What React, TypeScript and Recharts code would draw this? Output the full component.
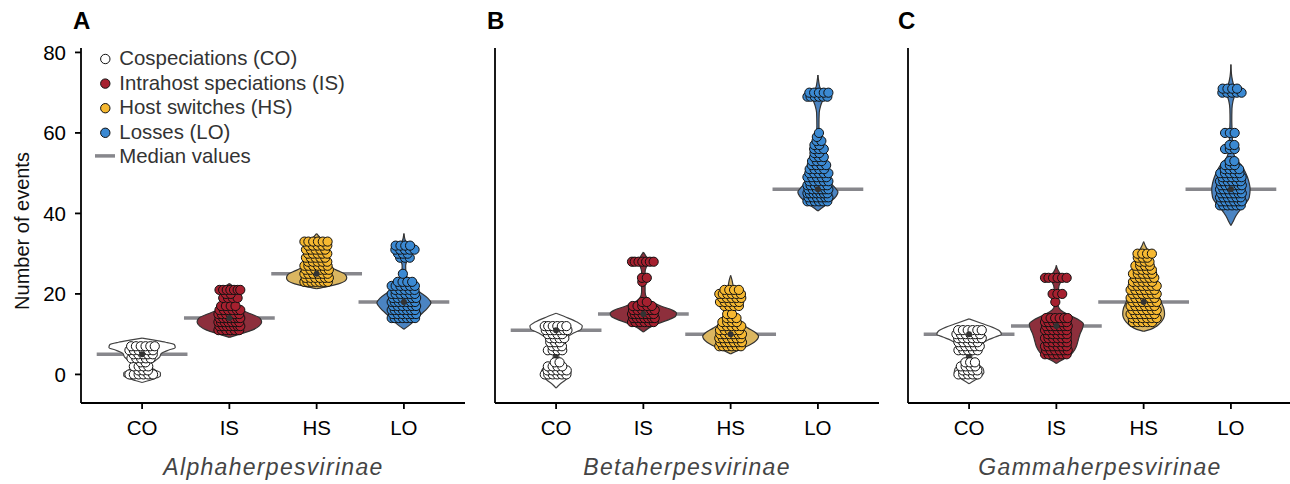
import React from 'react';
import {
  ComposedChart,
  Area,
  Scatter,
  XAxis,
  YAxis,
  ReferenceLine,
  ReferenceDot,
  Legend,
} from 'recharts';

type Row = [number, number];

// ---------- data ----------
const categories = ['CO', 'IS', 'HS', 'LO'];
const panelLetters = ['A', 'B', 'C'];
const panelTitles = ['Alphaherpesvirinae', 'Betaherpesvirinae', 'Gammaherpesvirinae'];
const yTicks = [0, 20, 40, 60, 80];
const legendLabels = [
  'Cospeciations (CO)',
  'Intrahost speciations (IS)',
  'Host switches (HS)',
  'Losses (LO)',
  'Median values',
];

// medians per category (CO, IS, HS, LO)
const alphaMedians = [5, 14, 25, 18];
const betaMedians = [11, 15, 10, 46];
const gammaMedians = [10, 12, 18, 46];

// inner box: [q1, q3, whiskerLow, whiskerHigh]
const alphaBoxes = [[2, 7, 0, 8], [12, 16, 11, 21], [24, 30, 23, 33], [16, 21, 14, 25]];
const betaBoxes = [[2, 11, 0, 12], [14, 16.5, 13, 18], [8, 17, 7, 21], [44, 50, 43, 58]];
const gammaBoxes = [[2, 10, 0, 11], [7, 12, 5, 14], [16, 23, 13, 30], [44, 48, 42, 53]];

// event counts: [value, number of points at that value]
const alphaCO: Row[] = [[0, 6], [1, 3], [2, 4], [3, 2], [4, 5], [5, 5], [6, 6], [7, 6]];
const alphaIS: Row[] = [[11, 6], [12, 7], [13, 7], [14, 7], [15, 6], [16, 6], [17, 4], [19, 4], [20, 2], [21, 7]];
const alphaHS: Row[] = [[23, 7], [24, 6], [25, 6], [26, 6], [27, 6], [28, 5], [29, 5], [30, 5], [31, 5], [32, 5], [33, 6]];
const alphaLO: Row[] = [[14, 7], [15, 6], [16, 7], [17, 6], [18, 7], [19, 6], [20, 6], [21, 5], [22, 6], [23, 4], [25, 1], [29, 3], [30, 3], [31, 5], [32, 4]];

const betaCO: Row[] = [[0, 6], [1, 5], [2, 4], [3, 2], [6, 4], [7, 3], [8, 3], [9, 4], [10, 4], [11, 6], [12, 6]];
const betaIS: Row[] = [[13, 6], [14, 7], [15, 7], [16, 6], [17, 5], [18, 2], [23, 1], [24, 2], [28, 7]];
const betaHS: Row[] = [[7, 6], [8, 6], [9, 6], [10, 6], [11, 5], [12, 5], [13, 4], [14, 3], [15, 2], [17, 4], [18, 5], [19, 5], [20, 6], [21, 4]];
const betaLO: Row[] = [[43, 6], [44, 6], [45, 7], [46, 6], [47, 6], [48, 5], [49, 5], [50, 5], [51, 4], [52, 4], [53, 3], [54, 3], [55, 2], [56, 3], [57, 2], [58, 2], [59, 1], [60, 1], [69, 6], [70, 5]];

const gammaCO: Row[] = [[0, 5], [1, 4], [2, 4], [3, 3], [6, 5], [7, 5], [8, 5], [9, 6], [10, 6], [11, 6]];
const gammaIS: Row[] = [[5, 6], [6, 6], [7, 6], [8, 5], [9, 6], [10, 5], [11, 6], [12, 6], [13, 6], [14, 6], [18, 1], [20, 3], [24, 6]];
const gammaHS: Row[] = [[13, 5], [14, 6], [15, 6], [16, 6], [17, 6], [18, 6], [19, 6], [20, 6], [21, 6], [22, 6], [23, 5], [24, 5], [25, 5], [26, 4], [27, 4], [28, 3], [29, 3], [30, 4]];
const gammaLO: Row[] = [[42, 6], [43, 6], [44, 6], [45, 6], [46, 6], [47, 6], [48, 6], [49, 5], [50, 5], [51, 4], [52, 3], [53, 2], [56, 3], [57, 2], [60, 3], [70, 5], [71, 4]];

// violin outlines: [value, half width (category units)]
const alphaCOViolin: Row[] = [[-2, 0], [-1.5, 0.08], [-1, 0.15], [-0.3, 0.21], [0.4, 0.21], [1.1, 0.15], [1.8, 0.1], [2.6, 0.1], [3.4, 0.15], [4.3, 0.2], [5.2, 0.22], [6, 0.3], [6.7, 0.38], [7.4, 0.37], [8, 0.27], [8.5, 0.14], [9, 0]];
const alphaISViolin: Row[] = [[9.2, 0], [10, 0.12], [11, 0.26], [12, 0.34], [13, 0.37], [14, 0.35], [15, 0.25], [16, 0.14], [17, 0.08], [18, 0.06], [19, 0.07], [20, 0.09], [21, 0.09], [21.8, 0.05], [22.6, 0]];
const alphaHSViolin: Row[] = [[21.3, 0], [21.8, 0.12], [22.5, 0.25], [23.3, 0.33], [24, 0.345], [24.8, 0.33], [25.5, 0.27], [26.3, 0.19], [27.5, 0.12], [29, 0.1], [31, 0.1], [33, 0.08], [34, 0.04], [35, 0]];
const alphaLOViolin: Row[] = [[11.2, 0], [12, 0.05], [13.5, 0.13], [15, 0.2], [16.5, 0.27], [17.8, 0.31], [19, 0.27], [20.5, 0.18], [22, 0.1], [23.5, 0.05], [25, 0.025], [27, 0.02], [28.5, 0.04], [30, 0.07], [31.5, 0.06], [33, 0.02], [35, 0]];

const betaCOViolin: Row[] = [[-3.4, 0], [-2.5, 0.04], [-1.5, 0.1], [-0.5, 0.15], [0.5, 0.17], [1.5, 0.15], [2.5, 0.08], [3.5, 0.04], [5, 0.03], [6.5, 0.05], [8, 0.08], [9.3, 0.13], [10.3, 0.2], [11.3, 0.29], [12, 0.3], [13, 0.24], [14, 0.14], [15.2, 0]];
const betaISViolin: Row[] = [[10.5, 0], [11.5, 0.06], [12.5, 0.15], [13.5, 0.28], [14.5, 0.37], [15.2, 0.38], [16, 0.33], [17, 0.2], [18, 0.1], [19, 0.04], [20.5, 0.02], [23, 0.02], [25.5, 0.02], [27, 0.04], [28, 0.06], [29, 0.04], [30.4, 0]];
const betaHSViolin: Row[] = [[5.1, 0], [5.8, 0.07], [6.8, 0.17], [8, 0.27], [9.5, 0.32], [10.5, 0.28], [11.5, 0.2], [12.5, 0.13], [14, 0.07], [15, 0.05], [16.5, 0.06], [18.5, 0.08], [20.5, 0.06], [22, 0.03], [23.5, 0.015], [24.6, 0]];
const betaLOViolin: Row[] = [[40.6, 0], [41.3, 0.04], [42.2, 0.1], [43.2, 0.16], [44.3, 0.21], [45.3, 0.23], [46.3, 0.2], [47.5, 0.15], [49, 0.12], [51, 0.09], [53, 0.06], [55, 0.04], [57, 0.025], [59, 0.015], [62, 0.012], [65, 0.015], [67, 0.035], [68.7, 0.06], [70, 0.05], [71.5, 0.02], [73, 0.008], [74.4, 0]];

const gammaCOViolin: Row[] = [[-2.3, 0], [-1.5, 0.06], [-0.5, 0.13], [0.5, 0.17], [1.5, 0.16], [2.5, 0.1], [3.5, 0.04], [4.5, 0.03], [5.5, 0.04], [6.5, 0.09], [7.5, 0.14], [8.5, 0.21], [9.3, 0.3], [10, 0.37], [10.8, 0.35], [11.7, 0.27], [12.7, 0.14], [13.8, 0]];
const gammaISViolin: Row[] = [[2.7, 0], [3.5, 0.06], [4.5, 0.14], [5.5, 0.19], [7, 0.23], [8.5, 0.25], [10, 0.27], [11.5, 0.3], [12.5, 0.31], [13.5, 0.26], [14.5, 0.17], [15.5, 0.08], [16.5, 0.03], [18, 0.015], [20, 0.02], [22, 0.03], [23.3, 0.055], [24.2, 0.06], [25.3, 0.035], [26.3, 0.01], [27.1, 0]];
const gammaHSViolin: Row[] = [[10.7, 0], [11.2, 0.08], [12, 0.15], [13, 0.2], [14, 0.23], [15, 0.24], [16.5, 0.23], [18, 0.2], [20, 0.17], [22, 0.15], [24, 0.13], [26, 0.11], [28, 0.09], [29.5, 0.08], [30.5, 0.06], [31.5, 0.03], [33, 0]];
const gammaLOViolin: Row[] = [[37, 0], [38.2, 0.03], [39.5, 0.06], [41, 0.11], [42.5, 0.17], [44, 0.21], [46, 0.22], [47.5, 0.21], [49, 0.19], [50.5, 0.16], [52, 0.12], [53.5, 0.06], [55, 0.03], [57, 0.02], [60, 0.015], [63, 0.01], [66, 0.012], [68, 0.025], [69.5, 0.045], [70.7, 0.05], [72, 0.03], [74, 0.01], [77, 0]];

// ---------- styles ----------
const FONT = '"Liberation Sans", Arial, Helvetica, sans-serif';
const pointFill = ['#ffffff', '#a6202f', '#f6b831', '#3b89d2'];
const violinFill = ['#ffffff', '#8d2f3c', '#dbb660', '#4b84c2'];
const MEDIAN = '#87878c';
const DARK = '#333333';

const panels = [
  {
    left: 0,
    counts: [alphaCO, alphaIS, alphaHS, alphaLO],
    violins: [alphaCOViolin, alphaISViolin, alphaHSViolin, alphaLOViolin],
    medians: alphaMedians,
    boxes: alphaBoxes,
    spread: [0.145, 0.125, 0.14, 0.14],
  },
  {
    left: 414,
    counts: [betaCO, betaIS, betaHS, betaLO],
    violins: [betaCOViolin, betaISViolin, betaHSViolin, betaLOViolin],
    medians: betaMedians,
    boxes: betaBoxes,
    spread: [0.13, 0.13, 0.13, 0.12],
  },
  {
    left: 827,
    counts: [gammaCO, gammaIS, gammaHS, gammaLO],
    violins: [gammaCOViolin, gammaISViolin, gammaHSViolin, gammaLOViolin],
    medians: gammaMedians,
    boxes: gammaBoxes,
    spread: [0.145, 0.13, 0.15, 0.125],
  },
];

// strip layout: points of one value spread side by side, alternate rows nudged
function stripLayout(rows: Row[], center: number, half: number) {
  const pts: { x: number; v: number }[] = [];
  rows.forEach(([v, n], ri) => {
    const nudge = ri % 2 === 0 ? -0.012 : 0.012;
    const w = n > 1 ? Math.min(half, 0.0275 * (n - 1)) : 0;
    for (let i = 0; i < n; i++) {
      const t = n > 1 ? -w + (2 * w * i) / (n - 1) : 0;
      const x = Math.max(-half, Math.min(half, t + nudge));
      pts.push({ x: center + x, v });
    }
  });
  return pts;
}

function LegendBox() {
  const baselines = [20, 44.6, 69.2, 93.8, 118.4];
  return (
    <svg width={260} height={125} style={{ display: 'block', overflow: 'visible' }}>
      {legendLabels.map((label, i) => (
        <g key={label}>
          {i < 4 ? (
            <circle cx={17.3} cy={baselines[i] - 6} r={4.7} fill={pointFill[i]} stroke="#111" strokeWidth={1} />
          ) : (
            <line x1={7} x2={27} y1={baselines[i] - 7.5} y2={baselines[i] - 7.5} stroke={MEDIAN} strokeWidth={3.5} />
          )}
          <text x={31.3} y={baselines[i]} fontSize={20.4} fontFamily={FONT} fill="#333">
            {label}
          </text>
        </g>
      ))}
    </svg>
  );
}

function Panel({ idx }: { idx: number }) {
  const p = panels[idx];
  const scatterData = p.counts.map((rows, c) => stripLayout(rows, c, p.spread[c]));
  const violinData = p.violins.map((shape, c) =>
    shape.map(([v, hw]) => ({ v, r: [c - hw, c + hw] }))
  );
  const tickStyle = { fontSize: 20.5, fill: '#000', fontFamily: FONT };
  return (
    <div style={{ position: 'absolute', left: p.left, top: 0 }}>
      <ComposedChart
        layout="vertical"
        width={470}
        height={484}
        margin={{ top: 48, right: 5, bottom: 51, left: 31 }}
      >
        <XAxis
          type="number"
          domain={[-0.7, 3.7]}
          allowDataOverflow
          ticks={[0, 1, 2, 3]}
          interval={0}
          tickFormatter={(i: number) => categories[i]}
          height={30}
          tickSize={6}
          tickMargin={11}
          tick={tickStyle}
          axisLine={{ stroke: '#000', strokeWidth: 1.8 }}
          tickLine={{ stroke: '#000', strokeWidth: 1.8 }}
        />
        <YAxis
          type="number"
          dataKey="v"
          domain={[-7.1, 81.1]}
          reversed
          allowDataOverflow
          ticks={yTicks}
          interval={0}
          width={50}
          tickSize={6}
          tickMargin={9}
          tick={idx === 0 ? tickStyle : false}
          axisLine={{ stroke: '#000', strokeWidth: 1.8 }}
          tickLine={{ stroke: '#000', strokeWidth: 1.8 }}
        />
        {p.medians.map((m, c) => (
          <ReferenceLine
            key={'med' + c}
            segment={[{ x: c - 0.52, y: m }, { x: c + 0.52, y: m }]}
            stroke={MEDIAN}
            strokeWidth={3.5}
            zIndex={50}
          />
        ))}
        {violinData.map((d, c) => (
          <Area
            key={'vio' + c}
            data={d}
            dataKey="r"
            type="monotone"
            fill={violinFill[c]}
            fillOpacity={1}
            stroke={c === 0 ? '#444' : DARK}
            strokeWidth={1.2}
            dot={false}
            activeDot={false}
            isAnimationActive={false}
            zIndex={100}
          />
        ))}
        {p.boxes.map((b, c) => (
          <ReferenceLine
            key={'wh' + c}
            segment={[{ x: c, y: b[2] }, { x: c, y: b[3] }]}
            stroke="#3a3a3a"
            strokeWidth={1.5}
            zIndex={150}
          />
        ))}
        {p.boxes.map((b, c) => (
          <ReferenceLine
            key={'box' + c}
            segment={[{ x: c, y: b[0] }, { x: c, y: b[1] }]}
            stroke="#3a3a3a"
            strokeWidth={4.5}
            zIndex={150}
          />
        ))}
        {scatterData.map((d, c) => (
          <Scatter
            key={'pts' + c}
            data={d}
            dataKey="x"
            isAnimationActive={false}
            zIndex={600}
            shape={(s: any) => (
              <circle cx={s.cx} cy={s.cy} r={4.6} fill={pointFill[c]} stroke="#111" strokeWidth={1} />
            )}
          />
        ))}
        {p.medians.map((m, c) => (
          <ReferenceDot key={'dot' + c} x={c} y={m} r={3} fill="#333" stroke="none" zIndex={700} />
        ))}
        {idx === 0 && (
          <Legend
            layout="horizontal"
            align="center"
            verticalAlign="middle"
            wrapperStyle={{ position: 'absolute', left: 88, top: 45, width: 260, height: 125 }}
            content={() => <LegendBox />}
          />
        )}
      </ComposedChart>
    </div>
  );
}

export default function App() {
  const titleX = [273.5, 687, 1100];
  const letterX = [73, 487, 898];
  return (
    <div
      style={{
        position: 'absolute',
        left: 0,
        top: 0,
        width: 1290,
        height: 484,
        overflow: 'hidden',
        background: '#fff',
      }}
    >
      {panels.map((_, i) => (
        <Panel key={i} idx={i} />
      ))}
      <svg
        width={1290}
        height={484}
        style={{ position: 'absolute', left: 0, top: 0, pointerEvents: 'none' }}
      >
        {panelLetters.map((l, i) => (
          <text key={l} x={letterX[i]} y={29} fontSize={24} fontWeight="bold" fontFamily={FONT} fill="#000">
            {l}
          </text>
        ))}
        {panelTitles.map((t, i) => (
          <text
            key={t}
            x={titleX[i]}
            y={474.5}
            textAnchor="middle"
            fontSize={23}
            fontStyle="italic"
            letterSpacing={1.3}
            fontFamily={FONT}
            fill="#444"
          >
            {t}
          </text>
        ))}
        <text
          transform="translate(29,231) rotate(-90)"
          textAnchor="middle"
          fontSize={20}
          fontFamily={FONT}
          fill="#111"
        >
          Number of events
        </text>
      </svg>
    </div>
  );
}
